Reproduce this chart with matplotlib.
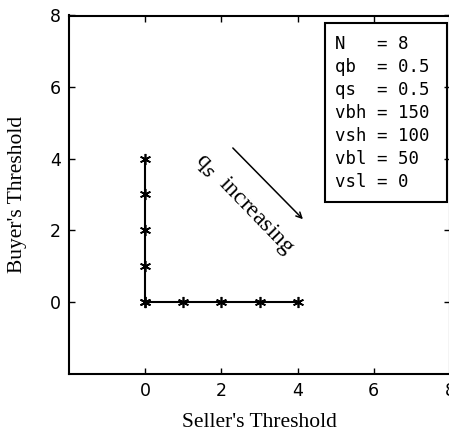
import matplotlib
matplotlib.use("Agg")
import matplotlib.pyplot as plt
from matplotlib.patches import Rectangle

# Data
buyer_x = [0, 0, 0, 0, 0]
buyer_y = [0, 1, 2, 3, 4]
seller_x = [0, 1, 2, 3, 4]
seller_y = [0, 0, 0, 0, 0]
xticks = [0, 2, 4, 6, 8]
yticks = [0, 2, 4, 6, 8]
param_lines = ["N   = 8", "qb  = 0.5", "qs  = 0.5", "vbh = 150",
               "vsh = 100", "vbl = 50", "vsl = 0"]
annot_text = "q$_s$  increasing"

W, H = 449, 433
fig = plt.figure(figsize=(W / 100, H / 100), dpi=100)
fig.patch.set_facecolor("white")
left, right, top, bottom = 69, 450, 15.5, 373.5
ax = fig.add_axes([left / W, 1 - bottom / H, (right - left) / W, (bottom - top) / H])

ax.plot(buyer_x, buyer_y, color="black", lw=1.5, marker=(6, 2, 0), ms=8, mew=1.2)
ax.plot(seller_x, seller_y, color="black", lw=1.5, marker=(6, 2, 0), ms=8, mew=1.2)

ax.set_xlim(-2, 8)
ax.set_ylim(-2, 8)
ax.set_xticks(xticks)
ax.set_yticks(yticks)
ax.tick_params(direction="in", length=4, width=1, top=True, right=True,
               labelsize=12.5, pad=6)
for lab in ax.get_xticklabels() + ax.get_yticklabels():
    lab.set_fontfamily("DejaVu Sans")
for s in ax.spines.values():
    s.set_linewidth(1.5)

ax.set_xlabel("Seller's Threshold", fontfamily="Liberation Serif", fontsize=15.5)
ax.set_ylabel("Buyer's Threshold", fontfamily="Liberation Serif", fontsize=15.5)
ax.xaxis.set_label_coords(0.5, -0.137)
ax.yaxis.set_label_coords(-0.134, 0.5)
ax.xaxis.label.set_va("center")
ax.yaxis.label.set_va("center")

# parameter box
ax.add_patch(Rectangle((4.72, 2.79), 3.21, 4.99, fill=False, lw=1.5,
                       edgecolor="black", zorder=5, clip_on=False))
for i, line in enumerate(param_lines):
    ax.text(4.98, 7.20 - i * 0.643, line, fontfamily="DejaVu Sans Mono",
            fontsize=12.5, va="center", ha="left")

# annotation
ax.text(1.62, 4.3, annot_text, rotation=-46, rotation_mode="anchor",
        ha="left", va="top", fontfamily="Liberation Serif", fontsize=17)
ax.annotate("", xy=(4.14, 2.31), xytext=(2.3, 4.3),
            arrowprops=dict(arrowstyle="->", lw=1.1, color="black",
                            shrinkA=0, shrinkB=0))

fig.savefig("out.png", dpi=100)
